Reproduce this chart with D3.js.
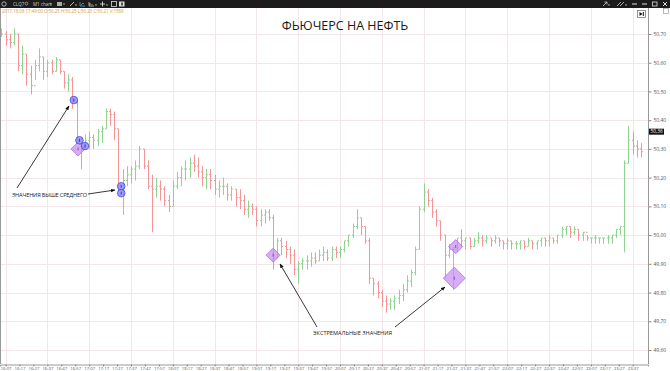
<!DOCTYPE html>
<html><head><meta charset="utf-8">
<script src="https://cdn.jsdelivr.net/npm/d3@7"></script>
<style>
body{margin:0;background:#fff;overflow:hidden}
svg{display:block;font-family:"Open Sans","DejaVu Sans",sans-serif}
</style>
</head><body>
<svg id="c" width="670" height="371"></svg>
<script>
// ---------- DATA ----------
const startTime = "16:04";     // first bar time
const barMinutes = 3;          // bar period
const firstOpen = 50.70;
const closes = [50.70,50.68,50.67,50.70,50.59,50.63,50.56,50.52,50.59,50.62,
50.57,50.60,50.57,50.61,50.57,50.53,50.54,50.46,50.33,50.31,
50.33,50.34,50.33,50.36,50.37,50.43,50.42,50.37,50.16,50.19,
50.21,50.23,50.24,50.30,50.24,50.17,50.16,50.17,50.16,50.12,
50.10,50.17,50.20,50.23,50.23,50.25,50.24,50.22,50.20,50.21,
50.19,50.16,50.17,50.17,50.14,50.16,50.13,50.12,50.09,50.10,
50.09,50.05,50.07,50.08,50.06,49.92,49.98,49.96,49.95,49.93,
49.88,49.90,49.91,49.91,49.92,49.91,49.93,49.94,49.92,49.95,
49.94,49.95,49.98,50.00,50.03,50.06,50.03,49.98,49.85,49.83,
49.80,49.77,49.76,49.77,49.78,49.79,49.81,49.84,49.87,49.95,
50.09,50.15,50.12,50.08,50.05,50.00,49.93,49.95,49.95,49.99,
49.98,49.99,49.96,49.98,49.99,49.98,49.99,49.98,49.99,49.98,
49.97,49.98,49.97,49.97,49.98,49.96,49.98,49.97,49.98,49.99,
49.98,49.99,49.98,50.00,50.02,50.03,50.01,50.02,50.00,50.01,
49.99,49.99,49.99,49.99,49.99,49.99,50.00,50.02,50.03,50.25,
50.33,50.31,50.30,50.29];
const highs = [50.72,50.71,50.70,50.72,50.70,50.66,50.63,50.59,50.61,50.65,
50.62,50.61,50.61,50.62,50.61,50.57,50.56,50.55,50.47,50.34,
50.35,50.36,50.35,50.37,50.38,50.44,50.44,50.43,50.37,50.23,
50.24,50.24,50.26,50.31,50.30,50.26,50.21,50.20,50.19,50.17,
50.14,50.19,50.22,50.24,50.26,50.27,50.28,50.27,50.24,50.23,
50.23,50.21,50.19,50.20,50.18,50.17,50.16,50.16,50.14,50.12,
50.11,50.10,50.09,50.09,50.09,50.07,49.99,49.99,49.98,49.96,
49.95,49.91,49.92,49.93,49.94,49.94,49.95,49.96,49.95,49.96,
49.96,49.96,49.98,50.00,50.04,50.09,50.06,50.03,49.99,49.85,
49.84,49.81,49.79,49.78,49.79,49.81,49.83,49.86,49.88,49.96,
50.10,50.18,50.16,50.13,50.09,50.05,50.00,49.97,49.96,49.99,
50.02,49.99,49.99,49.99,50.01,50.00,50.00,49.99,50.00,49.99,
49.98,49.99,49.98,49.98,49.98,49.98,49.99,49.98,49.98,49.99,
49.99,50.00,49.99,50.00,50.03,50.03,50.03,50.03,50.02,50.01,
50.00,49.99,50.00,49.99,49.99,50.00,50.00,50.02,50.03,50.26,
50.38,50.36,50.33,50.32];
const lows = [50.69,50.66,50.65,50.66,50.57,50.56,50.52,50.49,50.54,50.57,
50.54,50.55,50.56,50.57,50.56,50.51,50.50,50.44,50.32,50.23,
50.30,50.30,50.30,50.31,50.32,50.37,50.38,50.33,50.15,50.07,
50.17,50.18,50.19,50.23,50.23,50.16,50.01,50.13,50.12,50.10,
50.08,50.10,50.16,50.17,50.19,50.20,50.22,50.20,50.17,50.16,
50.16,50.14,50.13,50.14,50.12,50.12,50.10,50.09,50.07,50.06,
50.07,50.03,50.03,50.04,50.05,49.88,49.92,49.93,49.92,49.90,
49.86,49.83,49.88,49.88,49.89,49.90,49.91,49.91,49.91,49.91,
49.92,49.92,49.94,49.96,49.99,50.02,50.00,49.97,49.83,49.79,
49.78,49.75,49.73,49.74,49.74,49.76,49.77,49.80,49.82,49.86,
49.95,50.08,50.10,50.06,50.03,49.98,49.85,49.92,49.81,49.94,
49.96,49.95,49.95,49.96,49.97,49.96,49.97,49.96,49.97,49.96,
49.95,49.95,49.95,49.95,49.95,49.95,49.96,49.95,49.95,49.96,
49.96,49.96,49.97,49.97,49.99,50.00,49.99,50.00,49.98,49.98,
49.98,49.97,49.97,49.97,49.97,49.97,49.97,49.99,50.00,49.94,
50.25,50.28,50.27,50.27];
const xTickLabels = ["16:07","16:17","16:27","16:37","16:47","16:57","17:07","17:17","17:27","17:37",
"17:47","17:57","18:07","18:17","18:27","18:37","18:47","18:57","19:07","19:17",
"19:27","19:37","19:47","19:57","20:07","20:17","20:27","20:37","20:47","20:57",
"21:07","21:17","21:27","21:37","21:47","21:57","22:07","22:17","22:27","22:37",
"22:47","22:57","23:07","23:17","23:27","23:37"];
const yTickValues = [49.60,49.70,49.80,49.90,50.00,50.10,50.20,50.30,50.40,50.50,50.60,50.70];
const lastPrice = 50.36;
const aboveAvgTimes  = ["16:56","17:00","17:04","17:30","17:30"];
const aboveAvgPrices = [50.47, 50.33, 50.31, 50.17, 50.146];
const extremeTimes  = ["16:59","19:19","21:30","21:29"];
const extremePrices = [50.30, 49.93, 49.96, 49.85];
const extremeVolumes = [1, 1, 1, 2.4];
const headerText = "2017.18.08 17:49:00  O:50,25  H:50,25  L:50,20  C:50,21  V:1589";
const titleText = "ФЬЮЧЕРС НА НЕФТЬ";

// ---------- SCALES ----------
const parse = d3.timeParse("%H:%M");
const svg = d3.select("#c");
const W = 670, H = 371, plotR = 648, plotB = 364, plotT = 8;
const x = d3.scaleTime().domain([parse("16:03"), parse("23:48")]).range([0, plotR]);
const y = d3.scaleLinear().domain([49.60, 50.70]).range([350, 34]);
const t0 = parse(startTime);
const bars = closes.map((c, i) => ({
  t: d3.timeMinute.offset(t0, i * barMinutes),
  o: i === 0 ? firstOpen : closes[i - 1], h: highs[i], l: lows[i], c: c
}));

// ---------- GRID ----------
const grid = svg.append("g");
grid.selectAll(".hg").data(yTickValues).join("line")
  .attr("x1", 0).attr("x2", plotR).attr("y1", d => Math.round(y(d)) + 0.5).attr("y2", d => Math.round(y(d)) + 0.5)
  .attr("stroke", "#f2e6e9").attr("stroke-width", 1);
grid.selectAll(".vg").data(xTickLabels.filter((d, i) => i % 3 === 0)).join("line")
  .attr("x1", d => Math.round(x(parse(d))) + 0.5).attr("x2", d => Math.round(x(parse(d))) + 0.5)
  .attr("y1", plotT).attr("y2", plotB).attr("stroke", "#f2e6e9").attr("stroke-width", 1);

// ---------- BARS ----------
const green = "#86cf86", red = "#f58a8a";
const bg = svg.append("g").attr("stroke-width", 1).attr("opacity", 0.9);
bars.forEach(b => {
  const cx = Math.round(x(b.t)) + 0.5;
  const col = b.c >= b.o ? green : red;
  bg.append("line").attr("x1", cx).attr("x2", cx).attr("y1", y(b.h)).attr("y2", y(b.l)).attr("stroke", col);
  bg.append("line").attr("x1", cx - 1.5).attr("x2", cx).attr("y1", y(b.o)).attr("y2", y(b.o)).attr("stroke", col);
  bg.append("line").attr("x1", cx).attr("x2", cx + 1.5).attr("y1", y(b.c)).attr("y2", y(b.c)).attr("stroke", col);
});

// ---------- MARKERS ----------
const mg = svg.append("g");
extremeTimes.forEach((t, i) => {
  const cx = x(parse(t)), cy = y(extremePrices[i]);
  const r = extremeVolumes[i] > 1 ? 11 : 7;
  mg.append("path").attr("d", `M${cx},${cy - r}L${cx + r},${cy}L${cx},${cy + r}L${cx - r},${cy}Z`)
    .attr("fill", "#c58cf0").attr("fill-opacity", 0.7).attr("stroke", "#b070e8").attr("stroke-width", 0.8);
  mg.append("line").attr("x1", cx).attr("x2", cx).attr("y1", cy - 1.5).attr("y2", cy + 1.5).attr("stroke", "#7a2fc0").attr("stroke-width", 0.8);
});
aboveAvgTimes.forEach((t, i) => {
  const cx = x(parse(t)), cy = y(aboveAvgPrices[i]);
  mg.append("circle").attr("cx", cx).attr("cy", cy).attr("r", 3.8)
    .attr("fill", "#8a8af7").attr("fill-opacity", 0.8).attr("stroke", "#4646e6").attr("stroke-width", 0.8);
  mg.append("line").attr("x1", cx).attr("x2", cx).attr("y1", cy - 1.5).attr("y2", cy + 1.5).attr("stroke", "#2020a0").attr("stroke-width", 0.8);
});

// ---------- ANNOTATIONS ----------
const defs = svg.append("defs");
defs.append("marker").attr("id", "ah").attr("viewBox", "0 0 10 10").attr("refX", 9).attr("refY", 5)
  .attr("markerWidth", 5).attr("markerHeight", 5).attr("orient", "auto")
  .append("path").attr("d", "M0,1L10,5L0,9Z").attr("fill", "#111");
const ag = svg.append("g").attr("stroke", "#222").attr("stroke-width", 0.9).attr("fill", "none");
[[17,188,69,106],[88,194,115,190],[317,327,280,264],[395,327,445,287]].forEach(a => {
  ag.append("line").attr("x1", a[0]).attr("y1", a[1]).attr("x2", a[2]).attr("y2", a[3]).attr("marker-end", "url(#ah)");
});
svg.append("text").attr("x", 12).attr("y", 197).attr("font-size", 5.6).attr("fill", "#222")
  .attr("textLength", 75).text("ЗНАЧЕНИЯ ВЫШЕ СРЕДНЕГО");
svg.append("text").attr("x", 313).attr("y", 335).attr("font-size", 5.6).attr("fill", "#222")
  .attr("textLength", 79).text("ЭКСТРЕМАЛЬНЫЕ ЗНАЧЕНИЯ");

// title
svg.append("text").attr("x", 345).attr("y", 30).attr("text-anchor", "middle").attr("font-size", 12.5)
  .attr("fill", "#1a1a1a").text(titleText);

// ---------- AXES ----------
const fmt = d => d3.format(".2f")(d).replace(".", ",");
const ya = svg.append("g").attr("transform", `translate(${plotR + 0.5},0)`)
  .call(d3.axisRight(y).tickValues(yTickValues).tickFormat(fmt).tickSize(3).tickPadding(2));
ya.select(".domain").remove();
ya.selectAll("line").attr("stroke", "#888");
ya.selectAll("text").attr("font-size", 5).attr("fill", "#555").attr("font-family", "Open Sans, sans-serif");
svg.append("line").attr("x1", plotR + 0.5).attr("x2", plotR + 0.5).attr("y1", plotT).attr("y2", plotB).attr("stroke", "#999");

const xa = svg.append("g").attr("transform", `translate(0,${plotB + 0.5})`)
  .call(d3.axisBottom(x).tickValues(xTickLabels.map(parse)).tickFormat(d3.timeFormat("%H:%M")).tickSize(2).tickPadding(0.5));
xa.select(".domain").attr("stroke", "#999");
xa.selectAll("line").attr("stroke", "#888");
xa.selectAll("text").attr("font-size", 4.3).attr("fill", "#555").attr("font-family", "Open Sans, sans-serif");
svg.append("line").attr("x1", 0.5).attr("x2", 0.5).attr("y1", plotT).attr("y2", plotB).attr("stroke", "#999");

// last price label
const lp = y(lastPrice);
svg.append("rect").attr("x", plotR + 1).attr("y", lp - 3).attr("width", 15).attr("height", 6).attr("fill", "#111");
svg.append("text").attr("x", plotR + 2.5).attr("y", lp + 1.8).attr("font-size", 4.8).attr("fill", "#fff").text(fmt(lastPrice));

// header text
svg.append("text").attr("x", 2).attr("y", 12.5).attr("font-size", 4.4).attr("fill", "#d39a48").text(headerText);

// button top right
svg.append("rect").attr("x", 637.5).attr("y", 10.5).attr("width", 8).attr("height", 7).attr("fill", "#fff").attr("stroke", "#666").attr("stroke-width", 0.7);
svg.append("path").attr("d", "M639.5,12L642.5,14L639.5,16Z").attr("fill", "#111");
svg.append("rect").attr("x", 642.8).attr("y", 12).attr("width", 1).attr("height", 4).attr("fill", "#111");
svg.append("rect").attr("x", 663.5).attr("y", 8.5).attr("width", 5).attr("height", 5).attr("fill", "#fff").attr("stroke", "#888").attr("stroke-width", 0.6);

// ---------- TOOLBAR ----------
svg.append("rect").attr("x", 0).attr("y", 0).attr("width", W).attr("height", 8).attr("fill", "#1c1c1c");
const tb = svg.append("g").attr("fill", "#cfcfcf").attr("font-size", 4.5);
tb.append("circle").attr("cx", 4).attr("cy", 4).attr("r", 2.2).attr("fill", "none").attr("stroke", "#bbb").attr("stroke-width", 0.9);
tb.append("text").attr("x", 13).attr("y", 5.6).text("CLQ7");
tb.append("circle").attr("cx", 26.5).attr("cy", 3.6).attr("r", 1.4).attr("fill", "none").attr("stroke", "#ccc").attr("stroke-width", 0.6);
tb.append("text").attr("x", 33).attr("y", 5.6).text("M1 chart");
tb.append("path").attr("d", "M50,3.5L52,3.5L51,5Z");
tb.append("rect").attr("x", 57).attr("y", 2).attr("width", 5).attr("height", 4).attr("fill", "#aaa");
tb.append("path").attr("d", "M63,3.5L65,3.5L64,5Z");
tb.append("path").attr("d", "M70,6L74,2").attr("stroke", "#ccc").attr("stroke-width", 0.9);
tb.append("path").attr("d", "M75,4.5L77,4.5L76,6Z");
tb.append("path").attr("d", "M80,2V6H85M81,5L83,3L84,4").attr("stroke", "#4a9de0").attr("fill", "none").attr("stroke-width", 0.8);
tb.append("path").attr("d", "M89,2V6H94M90,5V3M92,5V4").attr("stroke", "#ccc").attr("fill", "none").attr("stroke-width", 0.8);
tb.append("path").attr("d", "M95,4.5L97,4.5L96,6Z");
tb.append("path").attr("d", "M100,4H105M102.5,1.5V6.5").attr("stroke", "#ddd").attr("stroke-width", 0.9);
tb.append("path").attr("d", "M106,4.5L108,4.5L107,6Z");
tb.append("rect").attr("x", 111.5).attr("y", 1.5).attr("width", 5).attr("height", 5).attr("fill", "none").attr("stroke", "#ddd").attr("stroke-width", 0.8);
tb.append("rect").attr("x", 119).attr("y", 1.5).attr("width", 5.5).attr("height", 5).attr("fill", "#ddd");
tb.append("rect").attr("x", 121).attr("y", 2.5).attr("width", 2).attr("height", 3).attr("fill", "#555");
tb.append("path").attr("d", "M603,6L607,2M604.5,2H607V4.5").attr("stroke", "#ccc").attr("fill", "none").attr("stroke-width", 0.8);
tb.append("path").attr("d", "M608,4.5L610,4.5L609,6Z");
tb.append("path").attr("d", "M617,6L621,2M620,6L624,2").attr("stroke", "#ccc").attr("stroke-width", 0.8);
tb.append("path").attr("d", "M625,4.5L627,4.5L626,6Z");
tb.append("path").attr("d", "M632,4H637").attr("stroke", "#ddd").attr("stroke-width", 1);
tb.append("path").attr("d", "M642,4H647").attr("stroke", "#ddd").attr("stroke-width", 1);
tb.append("rect").attr("x", 652.5).attr("y", 2).attr("width", 4.5).attr("height", 4).attr("fill", "none").attr("stroke", "#ddd").attr("stroke-width", 0.8);
tb.append("path").attr("d", "M663,2L667,6M667,2L663,6").attr("stroke", "#ddd").attr("stroke-width", 1);
</script>
</body></html>
